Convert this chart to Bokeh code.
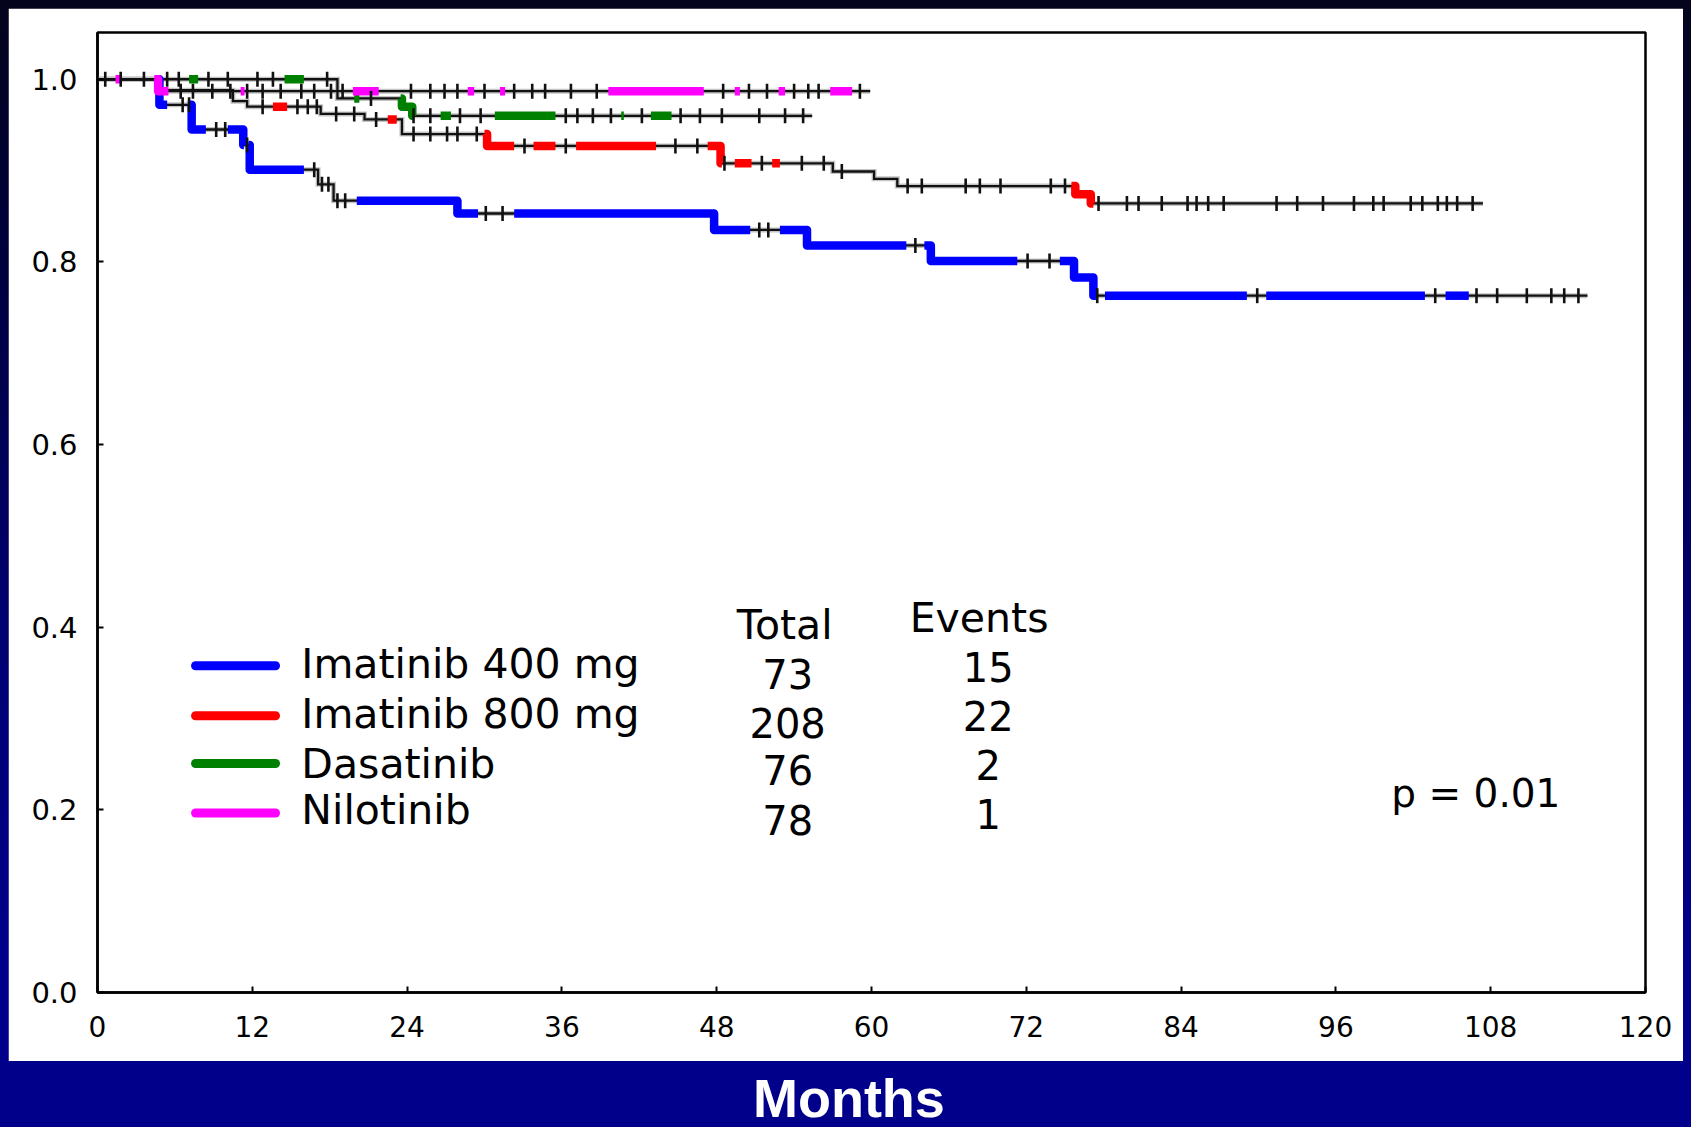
import numpy as np
from bokeh.plotting import figure
from bokeh.layouts import column
from bokeh.models import Range1d, FixedTicker, NumeralTickFormatter, Label
from bokeh.embed import file_html
from bokeh.resources import INLINE

# ---------------- data ----------------
groups = ["Imatinib 400 mg", "Imatinib 800 mg", "Dasatinib", "Nilotinib"]
totals = [73, 208, 76, 78]
events = [15, 22, 2, 1]
colors = ["#0000FF", "#FF0000", "#008000", "#FF00FF"]

# Imatinib 400 mg: event times (months) and survival after each event
im400_t = [4.8, 7.3, 11.3, 11.8, 17.1, 18.3, 27.9, 47.8, 55.0, 64.6, 75.7, 77.2]
im400_s = [0.972, 0.945, 0.928, 0.901, 0.885, 0.867, 0.853, 0.835, 0.818, 0.801, 0.783, 0.763]
im400_end = 115.5
im400_cens = [6.6, 7.1, 9.2, 9.9, 11.6, 16.8, 17.4, 17.9, 18.6, 19.2, 30.1, 31.4, 51.3, 52.0,
              63.4, 72.1, 73.8, 77.5, 89.9, 103.7, 106.9, 108.5, 110.8, 112.7, 113.7, 114.8]
im400_col = [(4.7, 5.4), (7.0, 8.4), (10.1, 11.35), (11.7, 16.0), (20.1, 29.5), (32.3, 50.6),
             (52.9, 62.7), (64.1, 71.3), (74.6, 77.4), (78.1, 89.1), (90.6, 102.9), (104.5, 106.3)]

# Imatinib 800 mg
im800_t = [4.6, 10.5, 11.6, 17.3, 20.7, 23.6, 30.2, 48.3, 57.0, 60.2, 62.0, 75.8, 77.0]
im800_s = [0.988, 0.976, 0.970, 0.962, 0.956, 0.940, 0.927, 0.908, 0.899, 0.891, 0.883, 0.874, 0.864]
im800_end = 107.4
im800_cens = [12.8, 15.5, 16.3, 17.0, 18.5, 19.9, 21.6, 24.5, 25.8, 27.1, 27.9, 29.4, 33.1, 36.3,
              44.8, 46.5, 48.6, 51.5, 54.6, 56.3, 57.7, 62.8, 63.9, 67.3, 68.4, 70.0, 73.9, 75.0,
              77.6, 79.8, 80.7, 82.5, 84.5, 85.2, 86.1, 87.3, 91.4, 93.0, 95.0, 97.4, 98.9, 99.7,
              101.8, 102.7, 103.9, 104.6, 105.4, 106.6]
im800_col = [(13.6, 14.7), (22.5, 23.2), (30.0, 32.3), (33.8, 35.5), (37.1, 43.3), (47.3, 48.4),
             (49.4, 50.7), (52.3, 52.9), (75.5, 77.2)]

# Dasatinib
das_t = [18.6, 23.6, 24.4]
das_s = [0.979, 0.970, 0.960]
das_end = 55.4
das_cens = [5.4, 6.3, 8.6, 10.1, 12.4, 13.6, 17.8, 21.2, 24.5, 25.8, 28.1, 29.7, 36.3, 37.2, 38.4,
            39.8, 42.2, 45.2, 46.7, 48.4, 51.3, 53.3, 54.7]
das_col = [(7.1, 7.8), (14.5, 16.0), (19.9, 20.3), (23.5, 24.45), (26.6, 27.4), (30.8, 35.5),
           (40.6, 40.8), (42.9, 44.5)]

# Nilotinib
nil_t = [4.7]
nil_s = [0.987]
nil_end = 59.9
nil_cens = [0.6, 1.8, 3.6, 6.45, 7.4, 8.9, 10.3, 11.6, 12.8, 14.2, 15.8, 16.8, 18.1, 19.0, 24.3,
            25.8, 26.9, 27.9, 30.0, 32.3, 33.7, 34.7, 36.7, 38.7, 48.5, 50.5, 51.9, 54.0, 55.1,
            55.9, 59.1]
nil_col = [(1.4, 1.9), (4.4, 5.5), (11.1, 11.4), (19.8, 21.8), (28.7, 29.2), (31.2, 31.6),
           (39.6, 47.0), (49.4, 49.8), (52.8, 53.3), (56.8, 58.5)]

x_ticks = [0, 12, 24, 36, 48, 60, 72, 84, 96, 108, 120]
y_ticks = [0.0, 0.2, 0.4, 0.6, 0.8, 1.0]
p_text = "p = 0.01"
x_title = "Months"

curves = [
    (im400_t, im400_s, im400_end, im400_cens, im400_col),
    (im800_t, im800_s, im800_end, im800_cens, im800_col),
    (das_t, das_s, das_end, das_cens, das_col),
    (nil_t, nil_s, nil_end, nil_cens, nil_col),
]


def surv_at(t, times, surv):
    s = 1.0
    for ti, si in zip(times, surv):
        if ti <= t:
            s = si
        else:
            break
    return s


def step_path(times, surv, t0, t1):
    xs = [t0]
    ys = [surv_at(t0, times, surv)]
    for ti, si in zip(times, surv):
        if t0 < ti < t1:
            xs += [ti, ti]
            ys += [ys[-1], si]
    xs.append(t1)
    ys.append(surv_at(t1, times, surv))
    return xs, ys


FONT = "DejaVu Sans"
Y_MAX = 1.0512
FRAME_H = 960.0
PX = Y_MAX / FRAME_H          # data units per screen pixel (vertical)
BASE_FIX = 0.39               # baseline correction, in em


def text_label(x, y, text, size, align="left", **kw):
    return Label(x=x, y=y + BASE_FIX * size * PX, text=text, text_font=FONT,
                 text_font_size=f"{size}px", text_color="black", text_align=align,
                 text_baseline="alphabetic", **kw)


p = figure(width=1675, height=1053, x_range=Range1d(0, 120), y_range=Range1d(0, Y_MAX),
           output_backend="svg", toolbar_location=None,
           min_border_left=89, min_border_right=38, min_border_top=24, min_border_bottom=69,
           background_fill_color="white", border_fill_color="white")
p.grid.visible = False
p.outline_line_color = "black"
p.outline_line_width = 2.5

for ax in (p.xaxis[0], p.yaxis[0]):
    ax.axis_line_color = "black"
    ax.axis_line_width = 2.5
    ax.major_tick_in = 6
    ax.major_tick_out = 0
    ax.major_tick_line_width = 2
    ax.minor_tick_line_color = None
    ax.major_label_text_font = FONT
    ax.major_label_text_color = "black"

p.xaxis.ticker = FixedTicker(ticks=x_ticks)
p.yaxis.ticker = FixedTicker(ticks=y_ticks)
p.yaxis.formatter = NumeralTickFormatter(format="0.0")
p.xaxis.major_label_text_font_size = "28px"
p.yaxis.major_label_text_font_size = "29px"
p.xaxis.major_label_standoff = 23
p.yaxis.major_label_standoff = 20

# black thin step lines (full curves) with light halo
for (t, s, end, cens, col) in curves:
    xs, ys = step_path(t, s, 0.0, end)
    p.line(xs, ys, line_color="#c4c4c4", line_width=5, line_join="miter")
for (t, s, end, cens, col) in curves:
    xs, ys = step_path(t, s, 0.0, end)
    p.line(xs, ys, line_color="#111111", line_width=2.3, line_join="miter")

# coloured thick segments
for (t, s, end, cens, col), c in zip(curves, colors):
    mxs, mys = [], []
    for a, b in col:
        xs, ys = step_path(t, s, a, b)
        mxs.append(xs)
        mys.append(ys)
    p.multi_line(mxs, mys, line_color=c, line_width=8.5, line_join="round", line_cap="butt")

# censor marks
for (t, s, end, cens, col) in curves:
    cy = [surv_at(x, t, s) for x in cens]
    p.scatter(cens, cy, marker="dash", angle=np.pi / 2, size=15,
              line_color="#111111", line_width=2.6, fill_color=None)

# legend / table
leg_x0, leg_x1, leg_tx = 7.6, 13.8, 15.8
line_y = [0.3578, 0.303, 0.2508, 0.1965]
text_y = [0.3424, 0.2877, 0.2329, 0.1818]
tot_y = [0.3322, 0.2775, 0.2263, 0.1716]
ev_y = [0.3388, 0.2858, 0.2318, 0.1789]
for i in range(4):
    p.line([leg_x0, leg_x1], [line_y[i], line_y[i]], line_color=colors[i], line_width=9,
           line_cap="round")
    p.add_layout(text_label(leg_tx, text_y[i], groups[i], 41))
    p.add_layout(text_label(53.5, tot_y[i], str(totals[i]), 40, align="center"))
    p.add_layout(text_label(69.05, ev_y[i], str(events[i]), 40, align="center"))

p.add_layout(text_label(53.27, 0.3851, "Total", 41, align="center"))
p.add_layout(text_label(68.34, 0.3931, "Events", 41, align="center"))
p.add_layout(text_label(100.3, 0.2008, p_text, 39))

# bottom band with axis title
P2_H = 66
p2 = figure(width=1675, height=P2_H, x_range=Range1d(0, 1), y_range=Range1d(0, P2_H),
            output_backend="svg", toolbar_location=None,
            x_axis_location=None, y_axis_location=None, min_border=0,
            background_fill_color="#00008B", border_fill_color="#00008B",
            outline_line_color=None)
p2.grid.visible = False
p2.add_layout(Label(x=0.4854, y=8 + BASE_FIX * 54, text=x_title, text_font="Liberation Sans",
                    text_font_style="bold", text_font_size="54px", text_color="white",
                    text_align="center", text_baseline="alphabetic"))

layout = column(p, p2, spacing=0)

tmpl = """{% block postamble %}<style>
html, body { margin: 0 !important; overflow: hidden; }
body { padding: 8px 8px 0 8px !important; box-sizing: border-box;
       background: linear-gradient(180deg, #04041c 0%, #000040 25%, #000070 55%, #00008B 85%, #00008B 100%); }
html { background: #00008B; }
</style>{% endblock %}"""
try:
    html = file_html(layout, INLINE, template=tmpl)
except Exception:
    html = file_html(layout, INLINE)
open("out.html", "w").write(html)
